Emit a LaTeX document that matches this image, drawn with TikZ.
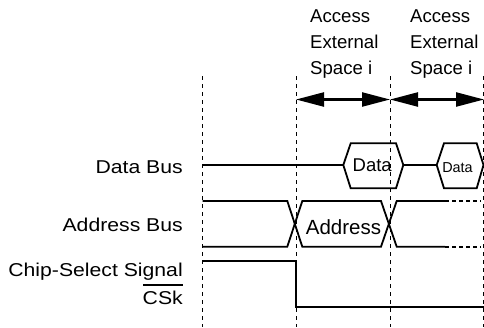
\documentclass[tikz,border=0pt]{standalone}
\usepackage{fontspec}
\setmainfont{Liberation Sans}
\newfontfamily\widefont{Liberation Sans}[FakeStretch=1.14]
\usetikzlibrary{arrows.meta}

\tikzset{
  signal/.style={line width=1.8pt},
  guide/.style={dash pattern=on 4pt off 4pt,line width=0.9pt},
  tail/.style={dash pattern=on 4pt off 3pt,line width=1.8pt},
  span/.style={line width=2.3pt,{Triangle[length=28pt,width=14pt]}-{Triangle[length=28pt,width=14pt]}},
  busname/.style={anchor=base east,inner sep=0pt,font=\widefont\fontsize{18.6}{22}\selectfont},
  spacetext/.style={anchor=base west,inner sep=0pt,font=\fontsize{18.6}{22}\selectfont},
  value/.style={anchor=base,inner sep=0pt}
}

\begin{document}
\begin{tikzpicture}[x=1pt,y=-1pt]
  \useasboundingbox (0,0) rectangle (484,327);

  % time marks
  \draw[guide] (202.5,76) -- (202.5,327);
  \draw[guide] (296,76) -- (296,327);
  \draw[guide] (390,76) -- (390,327);
  \draw[guide] (483.5,76) -- (483.5,327);

  % access spans
  \foreach \x/\n in {310/a,410/b} {
    \draw (\x,22.7) node [spacetext] (acc\n) {Access};
    \draw (\x,48.3) node [spacetext] (ext\n) {External};
    \draw (\x,74) node [spacetext] (spc\n) {Space i};
  }
  \coordinate (t1) at (296,99.5);
  \coordinate (t2) at (390,99.5);
  \coordinate (t3) at (484,99.5);
  \draw[span] (t1) -- (t2);
  \draw[span] (t2) -- (t3);

  % signal names
  \draw (183,173.3) node [busname] (dbus) {Data Bus};
  \draw (183,231.7) node [busname] (abus) {Address Bus};
  \draw (183,276.7) node [busname] (cssig) {Chip-Select Signal};
  \draw (183,304) node [busname] (csk) {CSk};
  \draw[line width=1.1pt] (143,285) -- (183,285);

  % data bus
  \draw[signal] (202.5,165) -- (343.3,165);
  \draw[signal] (343.3,165) -- (350.7,143.3) -- (396,143.3)
    -- (403.3,165) -- (396,188.3) -- (350.7,188.3) -- cycle;
  \draw[signal] (403.3,165) -- (436.7,165);
  \draw[signal] (436.7,165) -- (444,143.3) -- (476.7,143.3)
    -- (483.5,165) -- (476.7,188.3) -- (444,188.3) -- cycle;
  \draw (372.2,171.7) node [value,font=\fontsize{18.5}{20}\selectfont] (d1) {Data};
  \draw (457.5,172.3) node [value,font=\fontsize{14.4}{16}\selectfont] (d2) {Data};

  % address bus
  \draw[signal] (202.5,201) -- (287.3,201) -- (302.3,246.7) -- (381,246.7)
    -- (396.7,201) -- (445,201);
  \draw[signal] (202.5,246.7) -- (287.3,246.7) -- (302.3,201) -- (381,201)
    -- (396.7,246.7) -- (445,246.7);
  \draw[tail] (445,201) -- (481,201);
  \draw[tail] (445,246.7) -- (481,246.7);
  \draw (343.5,234) node [value,font=\fontsize{20.5}{22}\selectfont] (addr) {Address};

  % chip select
  \draw[signal] (202.5,261) -- (296,261) -- (296,307) -- (484,307);
\end{tikzpicture}
\end{document}
